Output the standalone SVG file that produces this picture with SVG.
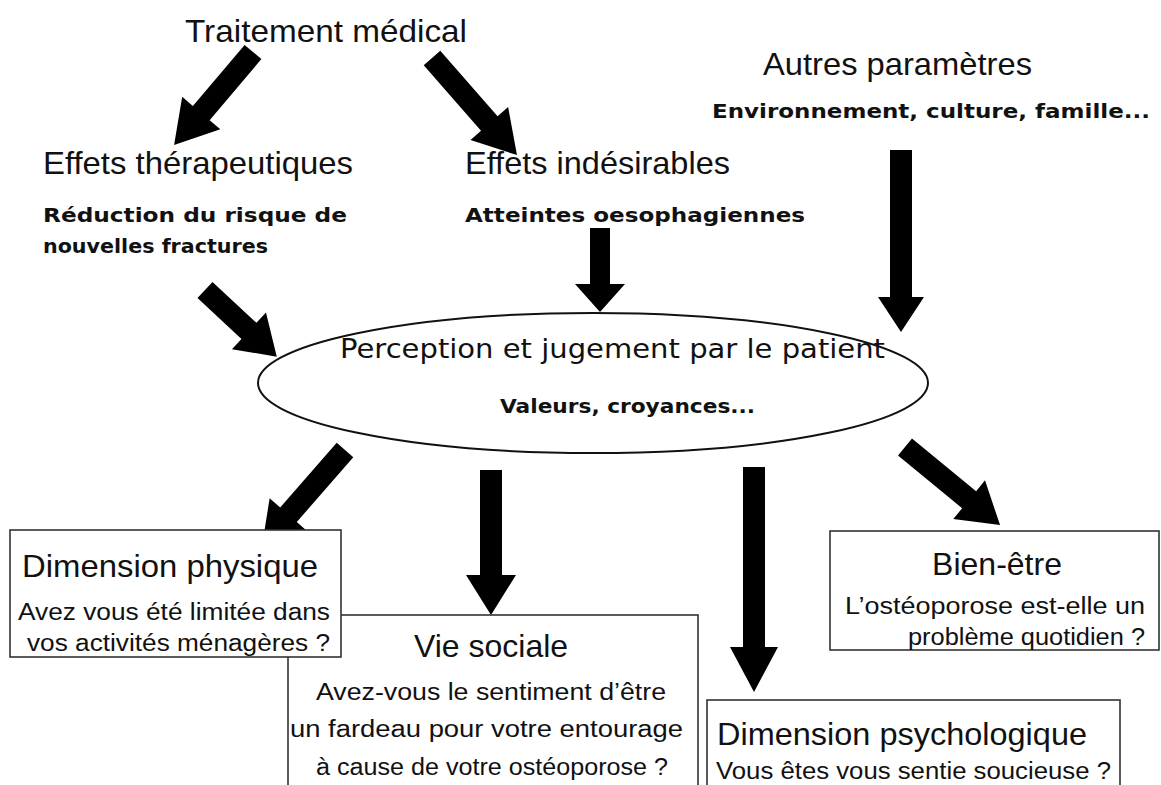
<svg xmlns="http://www.w3.org/2000/svg" width="1161" height="785" viewBox="0 0 1161 785">
<style>
.t{font-family:"Liberation Sans",Arial,sans-serif;font-size:32px;fill:#111}
.b{font-family:"DejaVu Sans","Liberation Sans",sans-serif;font-weight:bold;font-size:20px;fill:#111}
.s{font-family:"Liberation Sans",Arial,sans-serif;font-size:23px;fill:#111}
.box{fill:#fff;stroke:#333;stroke-width:1.6}
.arr{fill:#000}
</style>
<rect width="1161" height="785" fill="#fff"/>
<g id="connectors">
<path class="arr" transform="translate(253,52) rotate(130.3)" d="M0,-11 L80,-11 L80,-25 L122,0 L80,25 L80,11 L0,11 Z"/>
<path class="arr" transform="translate(432,58) rotate(48.8)" d="M0,-11 L87,-11 L87,-25 L129,0 L87,25 L87,11 L0,11 Z"/>
<path class="arr" transform="translate(205,290) rotate(42.9)" d="M0,-11 L60,-11 L60,-25 L98,0 L60,25 L60,11 L0,11 Z"/>
<path class="arr" transform="translate(600,228) rotate(90)" d="M0,-10 L56,-10 L56,-25 L84,0 L56,25 L56,10 L0,10 Z"/>
<path class="arr" transform="translate(901,150) rotate(90)" d="M0,-11 L147,-11 L147,-23 L182,0 L147,23 L147,11 L0,11 Z"/>
<path class="arr" transform="translate(345,450) rotate(131.1)" d="M0,-11 L86,-11 L86,-25 L126,0 L86,25 L86,11 L0,11 Z"/>
<path class="arr" transform="translate(491,470) rotate(90)" d="M0,-11 L105,-11 L105,-25 L145,0 L105,25 L105,11 L0,11 Z"/>
<path class="arr" transform="translate(754,467) rotate(90)" d="M0,-11 L180,-11 L180,-24 L225,0 L180,24 L180,11 L0,11 Z"/>
<path class="arr" transform="translate(905,447) rotate(39.4)" d="M0,-11 L83,-11 L83,-25 L123,0 L83,25 L83,11 L0,11 Z"/>
</g>
<g id="traitement">
<text class="t" x="185" y="42" textLength="282" lengthAdjust="spacingAndGlyphs">Traitement médical</text>
</g>
<g id="effets-therapeutiques">
<text class="t" x="43" y="174" textLength="310" lengthAdjust="spacingAndGlyphs">Effets thérapeutiques</text>
<text class="b" x="43" y="222" textLength="304" lengthAdjust="spacingAndGlyphs">Réduction du risque de</text>
<text class="b" x="43" y="253" textLength="225" lengthAdjust="spacingAndGlyphs">nouvelles fractures</text>
</g>
<g id="effets-indesirables">
<text class="t" x="465" y="174" textLength="265" lengthAdjust="spacingAndGlyphs">Effets indésirables</text>
<text class="b" x="465" y="222" textLength="340" lengthAdjust="spacingAndGlyphs">Atteintes oesophagiennes</text>
</g>
<g id="autres">
<text class="t" x="763" y="75" textLength="269" lengthAdjust="spacingAndGlyphs">Autres paramètres</text>
<text class="b" x="712" y="118" textLength="438" lengthAdjust="spacingAndGlyphs">Environnement, culture, famille...</text>
</g>
<g id="perception">
<ellipse cx="593" cy="383" rx="335" ry="70" fill="#fff" stroke="#111" stroke-width="2"/>
<text x="340" y="358" font-family="DejaVu Sans, sans-serif" font-size="27" fill="#111" textLength="545" lengthAdjust="spacingAndGlyphs">Perception et jugement par le patient</text>
<text class="b" x="500" y="413" textLength="255" lengthAdjust="spacingAndGlyphs">Valeurs, croyances...</text>
</g>
<g id="vie-sociale">
<rect class="box" x="288" y="615" width="410" height="190"/>
<text class="t" x="491" y="657" font-size="30" text-anchor="middle">Vie sociale</text>
<text class="s" x="316" y="700" textLength="350" lengthAdjust="spacingAndGlyphs">Avez-vous le sentiment d’être</text>
<text class="s" x="290" y="737" textLength="393" lengthAdjust="spacingAndGlyphs">un fardeau pour votre entourage</text>
<text class="s" x="316" y="775" textLength="352" lengthAdjust="spacingAndGlyphs">à cause de votre ostéoporose ?</text>
</g>
<g id="dimension-physique">
<rect class="box" x="10" y="530" width="331" height="127"/>
<text class="t" x="22" y="577" textLength="296" lengthAdjust="spacingAndGlyphs">Dimension physique</text>
<text class="s" x="18" y="620" textLength="312" lengthAdjust="spacingAndGlyphs">Avez vous été limitée dans</text>
<text class="s" x="27" y="651" textLength="303" lengthAdjust="spacingAndGlyphs">vos activités ménagères ?</text>
</g>
<g id="bien-etre">
<rect class="box" x="830" y="531" width="329" height="119"/>
<text class="t" x="997" y="575" font-size="30" text-anchor="middle">Bien-être</text>
<text class="s" x="845" y="614" textLength="300" lengthAdjust="spacingAndGlyphs">L’ostéoporose est-elle un</text>
<text class="s" x="908" y="645" textLength="237" lengthAdjust="spacingAndGlyphs">problème quotidien ?</text>
</g>
<g id="dimension-psychologique">
<rect class="box" x="707" y="700" width="413" height="100"/>
<text class="t" x="717" y="745" textLength="370" lengthAdjust="spacingAndGlyphs">Dimension psychologique</text>
<text class="s" x="716" y="779" textLength="395" lengthAdjust="spacingAndGlyphs">Vous êtes vous sentie soucieuse ?</text>
</g>
</svg>
